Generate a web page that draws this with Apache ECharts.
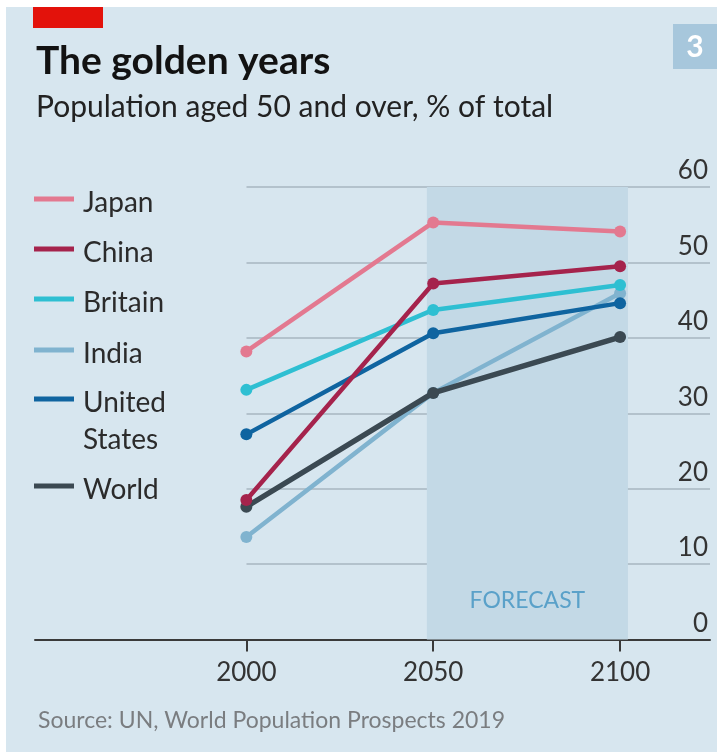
<!DOCTYPE html>
<html><head><meta charset="utf-8">
<script src="https://cdn.jsdelivr.net/npm/echarts@6/dist/echarts.min.js"></script>
<style>html,body{margin:0;padding:0;background:#fff}#c{width:717px;height:752px}</style>
</head><body><div id="c"></div>
<script>
// ---- data ----
const years = [2000, 2050, 2100];
const seriesNames = ['Japan', 'China', 'Britain', 'India', 'United States', 'World'];
const japan = [38.2, 55.3, 54.1];
const china = [18.5, 47.2, 49.5];
const britain = [33.1, 43.7, 47.0];
const india = [13.6, 32.7, 45.9];
const unitedStates = [27.2, 40.6, 44.6];
const world = [17.6, 32.7, 40.1];
const yTickLabels = [0, 10, 20, 30, 40, 50, 60];
const forecastRange = [2048.3, 2102.1];
const forecastLabel = 'FORECAST';

// ---- styles ----
const colors = {
  'Japan': '#e37990', 'China': '#a5234c', 'Britain': '#2ebfd2',
  'India': '#80b3cf', 'United States': '#0f64a0', 'World': '#3b4952'
};
const values = {
  'Japan': japan, 'China': china, 'Britain': britain,
  'India': india, 'United States': unitedStates, 'World': world
};
const zOrder = { 'India': 3, 'World': 4, 'Japan': 5, 'Britain': 6, 'United States': 7, 'China': 8 };
const FONT = 'Lato';
const BG = '#d7e6ef';

const chart = echarts.init(document.getElementById('c'), null, { renderer: 'canvas' });

const series = seriesNames.map(name => ({
  name: name,
  type: 'line',
  xAxisIndex: 0, yAxisIndex: 0,
  data: years.map((y, i) => [y, values[name][i]]),
  symbol: 'circle',
  symbolSize: 12,
  z: zOrder[name],
  lineStyle: { color: colors[name], width: name === 'World' ? 5.5 : 4.5 },
  itemStyle: { color: colors[name] },
  emphasis: { disabled: true },
  animation: false
}));

// forecast band
series.unshift({
  name: 'forecast', type: 'line', xAxisIndex: 0, yAxisIndex: 0, data: [], z: 1,
  markArea: {
    silent: true,
    itemStyle: { color: '#c3d9e6' },
    label: { show: true, position: 'insideBottom', distance: 27, color: '#5aa1c9',
             fontFamily: FONT, fontSize: 23, formatter: forecastLabel },
    data: [[{ xAxis: forecastRange[0], yAxis: 0 }, { xAxis: forecastRange[1], yAxis: 60 }]]
  },
  animation: false
});

// legend drawn from names/colors
const legendY = [199, 249, 299, 350, 399, 486];
const legendGraphics = [];
seriesNames.forEach((name, i) => {
  legendGraphics.push({ type: 'line', shape: { x1: 34, y1: legendY[i], x2: 74, y2: legendY[i] },
    style: { stroke: colors[name], lineWidth: 5 } });
  const label = name === 'United States' ? 'United\nStates' : name;
  legendGraphics.push({ type: 'text', x: 83, y: legendY[i] - 15,
    style: { text: label, fill: '#2b2b2b', font: '28px ' + FONT, lineHeight: 37, textVerticalAlign: 'top' } });
});

chart.setOption({
  backgroundColor: '#ffffff',
  animation: false,
  title: [
    { text: 'The golden years', subtext: 'Population aged 50 and over, % of total',
      left: 31, top: 37, itemGap: 11,
      textStyle: { fontFamily: FONT, fontWeight: 'bold', fontSize: 39, color: '#121212' },
      subtextStyle: { fontFamily: FONT, fontSize: 30, color: '#222' } },
    { text: 'Source: UN, World Population Prospects 2019', left: 33, top: 704,
      textStyle: { fontFamily: FONT, fontWeight: 'normal', fontSize: 23, color: '#7a7d80' } }
  ],
  graphic: [
    { type: 'rect', z: -100, shape: { x: 6, y: 7, width: 711, height: 745 }, style: { fill: BG } },
    { type: 'rect', shape: { x: 33, y: 7, width: 70, height: 21 }, style: { fill: '#e3120b' } },
    { type: 'rect', shape: { x: 673, y: 24, width: 44, height: 45 }, style: { fill: '#a7c7dc' } },
    { type: 'text', x: 695, y: 47, style: { text: '3', fill: '#ffffff', font: 'bold 30px ' + FONT,
      textAlign: 'center', textVerticalAlign: 'middle' } },
    ...legendGraphics
  ],
  grid: [
    { left: 35, right: 7, top: 187, bottom: 112.5 },
    { left: 246.5, right: 7, top: 187, bottom: 112.5 }
  ],
  xAxis: [
    { type: 'value', gridIndex: 0, min: 1943.45, max: 2124.06,
      axisLine: { show: true, lineStyle: { color: '#3a3a3a', width: 2 } },
      axisTick: { show: true, customValues: years, length: 12, lineStyle: { color: '#3a3a3a', width: 2 } },
      axisLabel: { show: true, customValues: years, margin: 20, color: '#333',
                   fontFamily: FONT, fontSize: 26, formatter: v => String(v) },
      splitLine: { show: false } },
    { type: 'value', gridIndex: 1, min: 2000, max: 2124.06, show: false }
  ],
  yAxis: [
    { type: 'value', gridIndex: 0, position: 'right', min: 0, max: 60, interval: 10,
      axisLine: { show: false }, axisTick: { show: false }, splitLine: { show: false },
      axisLabel: { inside: true, margin: 2, color: '#333', fontFamily: FONT, fontSize: 26,
                   verticalAlign: 'bottom', padding: [0, 0, 3, 0],
                   formatter: v => yTickLabels.includes(v) ? String(v) : '' } },
    { type: 'value', gridIndex: 1, position: 'right', min: 0, max: 60, interval: 10,
      axisLine: { show: false }, axisTick: { show: false }, axisLabel: { show: false },
      splitLine: { show: true, lineStyle: { color: '#a7b6c0', width: 1.5 } } }
  ],
  series: series
});
</script></body></html>
